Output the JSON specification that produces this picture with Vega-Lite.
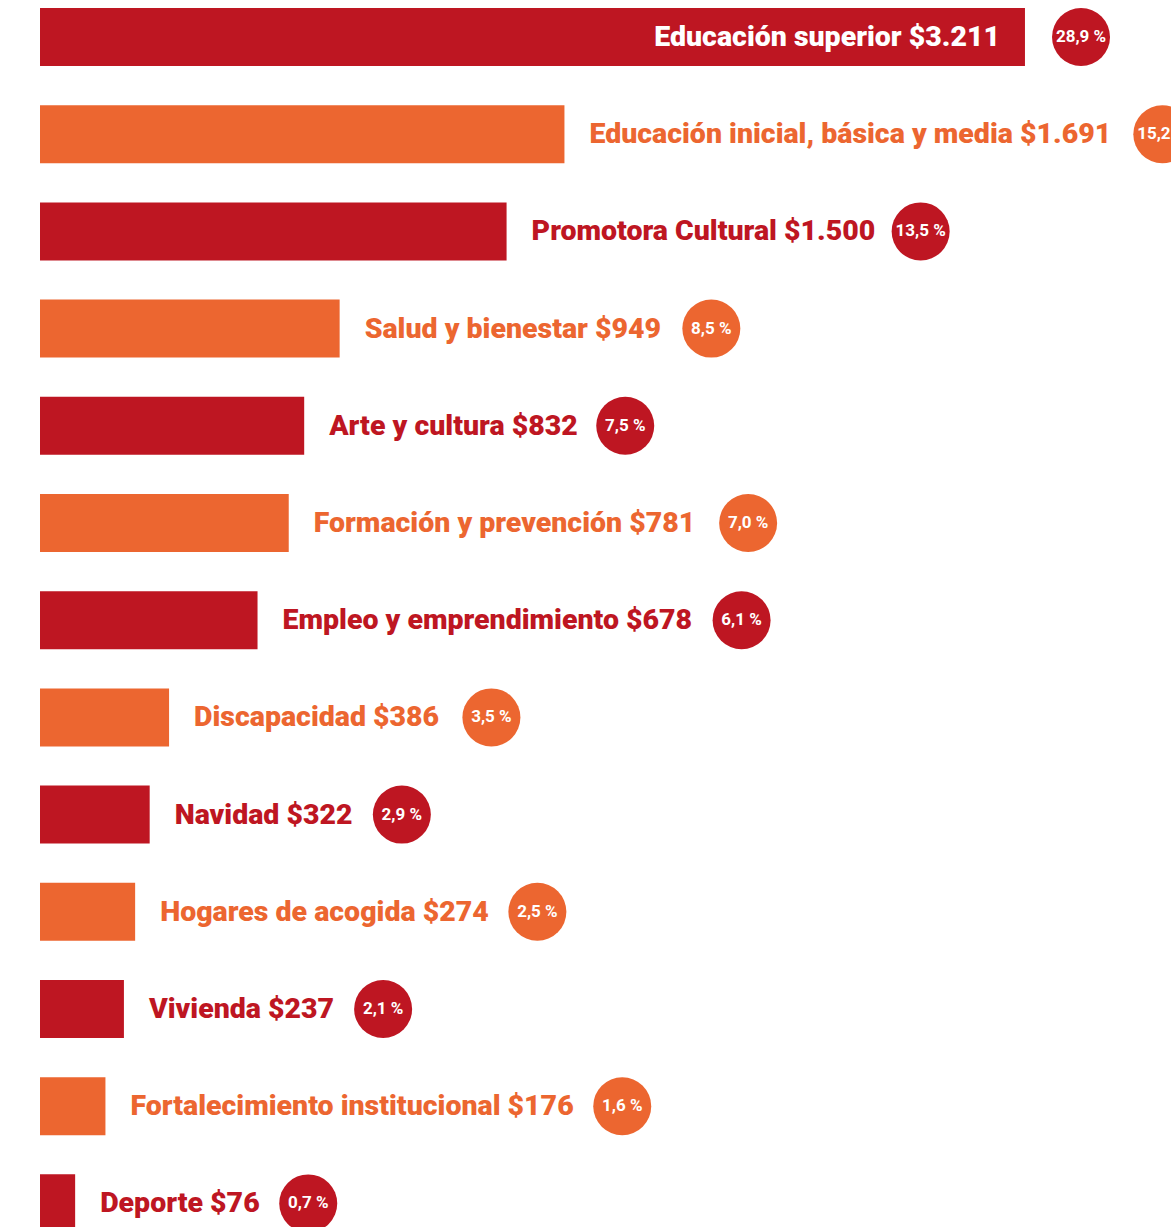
{
  "$schema": "https://vega.github.io/schema/vega-lite/v6.json",
  "width": 1131,
  "height": 1227,
  "autosize": {"type": "none"},
  "padding": {"left": 40, "top": 0, "right": 0, "bottom": 0},
  "background": "white",
  "config": {"view": {"stroke": null}},
  "data": {
    "values": [
      {"label": "Educación superior $3.211", "value": 3211, "pct": "28,9 %"},
      {"label": "Educación inicial, básica y media $1.691", "value": 1691, "pct": "15,2 %"},
      {"label": "Promotora Cultural $1.500", "value": 1500, "pct": "13,5 %"},
      {"label": "Salud y bienestar $949", "value": 949, "pct": "8,5 %"},
      {"label": "Arte y cultura $832", "value": 832, "pct": "7,5 %"},
      {"label": "Formación y prevención $781", "value": 781, "pct": "7,0 %"},
      {"label": "Empleo y emprendimiento $678", "value": 678, "pct": "6,1 %"},
      {"label": "Discapacidad $386", "value": 386, "pct": "3,5 %"},
      {"label": "Navidad $322", "value": 322, "pct": "2,9 %"},
      {"label": "Hogares de acogida $274", "value": 274, "pct": "2,5 %"},
      {"label": "Vivienda $237", "value": 237, "pct": "2,1 %"},
      {"label": "Fortalecimiento institucional $176", "value": 176, "pct": "1,6 %"},
      {"label": "Deporte $76", "value": 76, "pct": "0,7 %"}
    ]
  },
  "transform": [
    {"window": [{"op": "row_number", "as": "rank"}], "sort": [{"field": "value", "order": "descending"}]},
    {"calculate": "datum.value > 3000 ? datum.value + 185 : datum.value + 3.3 * (76 + 28.7 * (0.55 * length(datum.label) - 0.305 * length(replace(datum.label, regexp('[^ilj., ]', 'g'), '')) - 0.21 * length(replace(datum.label, regexp('[^rtf]', 'g'), '')) + 0.307 * length(replace(datum.label, regexp('[^m]', 'g'), '')) + 0.15 * length(replace(datum.label, regexp('[^A-Z]', 'g'), ''))))", "as": "pct_x"}
  ],
  "encoding": {
    "y": {
      "field": "label",
      "type": "nominal",
      "sort": {"field": "value", "order": "descending"},
      "axis": null,
      "scale": {"range": [8, 1232.4], "paddingInner": 0.403, "paddingOuter": 0}
    }
  },
  "layer": [
    {
      "mark": {"type": "bar"},
      "encoding": {
        "x": {"field": "value", "type": "quantitative", "scale": {"domain": [-40, 3693], "nice": false, "zero": false}, "axis": null},
        "x2": {"datum": -40},
        "color": {"condition": {"test": "datum.rank % 2 == 1", "value": "#BE1622"}, "value": "#EC6630"}
      }
    },
    {
      "transform": [{"filter": "datum.value < 3000"}],
      "mark": {"type": "text", "align": "left", "baseline": "middle", "dx": 25, "font": "Roboto", "fontWeight": 900, "fontSize": 28.5},
      "encoding": {
        "x": {"field": "value", "type": "quantitative"},
        "text": {"field": "label"},
        "color": {"condition": {"test": "datum.rank % 2 == 1", "value": "#BE1622"}, "value": "#EC6630"}
      }
    },
    {
      "transform": [{"filter": "datum.value >= 3000"}],
      "mark": {"type": "text", "align": "right", "baseline": "middle", "dx": -25, "font": "Roboto", "fontWeight": 900, "fontSize": 28.5, "color": "white"},
      "encoding": {
        "x": {"field": "value", "type": "quantitative"},
        "text": {"field": "label"}
      }
    },
    {
      "mark": {"type": "circle", "size": 3364, "opacity": 1},
      "encoding": {
        "x": {"field": "pct_x", "type": "quantitative"},
        "color": {"condition": {"test": "datum.rank % 2 == 1", "value": "#BE1622"}, "value": "#EC6630"}
      }
    },
    {
      "mark": {"type": "text", "align": "center", "baseline": "middle", "font": "Roboto", "fontWeight": "bold", "fontSize": 17, "color": "white"},
      "encoding": {
        "x": {"field": "pct_x", "type": "quantitative"},
        "text": {"field": "pct"}
      }
    }
  ]
}
